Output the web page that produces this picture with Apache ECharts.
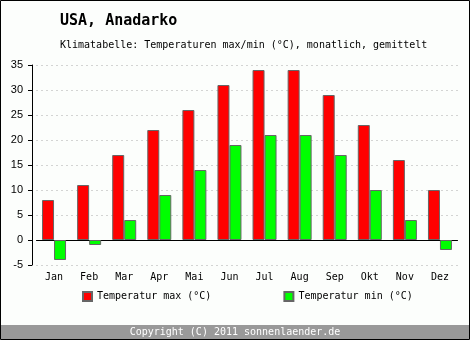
<!DOCTYPE html>
<html>
<head>
<meta charset="utf-8">
<script src="https://cdn.jsdelivr.net/npm/echarts@6/dist/echarts.min.js"></script>
<style>
  html, body { margin: 0; padding: 0; background: #fcfefc; }
  #chart { width: 470px; height: 340px; }
</style>
</head>
<body>
<div id="chart"></div>
<script>
// Monthly mean temperatures, Anadarko (USA)
const months = ['Jan', 'Feb', 'Mar', 'Apr', 'Mai', 'Jun', 'Jul', 'Aug', 'Sep', 'Okt', 'Nov', 'Dez'];
const tempMax = [8, 11, 17, 22, 26, 31, 34, 34, 29, 23, 16, 10];
const tempMin = [-4, -1, 4, 9, 14, 19, 21, 21, 17, 10, 4, -2];
const yTicks = { min: -5, max: 35, step: 5 };

const mono = 'DejaVu Sans Mono';
const chart = echarts.init(document.getElementById('chart'), null, { renderer: 'canvas' });

chart.setOption({
  backgroundColor: '#fcfefc',
  animation: false,
  title: [
    {
      text: 'USA, Anadarko',
      left: 55, top: 9,
      textStyle: { fontFamily: mono, fontSize: 15, fontWeight: 'bold', color: '#000' }
    },
    {
      text: 'Klimatabelle: Temperaturen max/min (°C), monatlich, gemittelt',
      left: 55, top: 35,
      textStyle: { fontFamily: mono, fontSize: 10, fontWeight: 'normal', color: '#000' }
    }
  ],
  legend: {
    top: 291,
    left: 82,
    padding: 0,
    itemGap: 72,
    itemWidth: 9,
    itemHeight: 9,
    icon: 'rect',
    textStyle: { fontFamily: mono, fontSize: 10, color: '#000' },
    data: ['Temperatur max (°C)', 'Temperatur min (°C)']
  },
  grid: { left: 36.5, right: 12.5, top: 65, bottom: 75 },
  xAxis: {
    type: 'category',
    data: months,
    axisLine: { onZero: true, lineStyle: { color: '#000', width: 1 } },
    axisTick: { show: false },
    axisLabel: { fontFamily: mono, fontSize: 10, color: '#000', margin: 7 },
    splitLine: { show: false }
  },
  yAxis: {
    type: 'value',
    min: yTicks.min,
    max: yTicks.max,
    interval: yTicks.step,
    offset: 4.5,
    axisLine: { show: true, lineStyle: { color: '#000', width: 1 } },
    axisTick: { show: true, length: 4, lineStyle: { color: '#000' } },
    axisLabel: { fontFamily: 'Liberation Sans', fontSize: 11, color: '#000', margin: 9 },
    splitLine: { show: true, lineStyle: { color: '#aaa', type: [1, 4], width: 1 } }
  },
  series: [
    {
      name: 'Temperatur max (°C)',
      type: 'bar',
      data: tempMax,
      barWidth: 12,
      barGap: '0%',
      itemStyle: { color: '#ff0000', borderColor: '#666', borderWidth: 1 }
    },
    {
      name: 'Temperatur min (°C)',
      type: 'bar',
      data: tempMin,
      barWidth: 12,
      itemStyle: { color: '#00ff00', borderColor: '#666', borderWidth: 1 }
    }
  ],
  graphic: [
    {
      type: 'rect',
      shape: { x: 1, y: 325, width: 468, height: 14 },
      style: { fill: '#999999' },
      silent: true
    },
    {
      type: 'text',
      x: 235, y: 332,
      style: {
        text: 'Copyright (C) 2011 sonnenlaender.de',
        fill: '#fff',
        font: '10px "DejaVu Sans Mono"',
        textAlign: 'center',
        textVerticalAlign: 'middle'
      },
      silent: true
    },
    {
      type: 'rect',
      shape: { x: 0.5, y: 0.5, width: 469, height: 339 },
      style: { fill: 'none', stroke: '#000', lineWidth: 1 },
      silent: true
    }
  ]
});
</script>
</body>
</html>
